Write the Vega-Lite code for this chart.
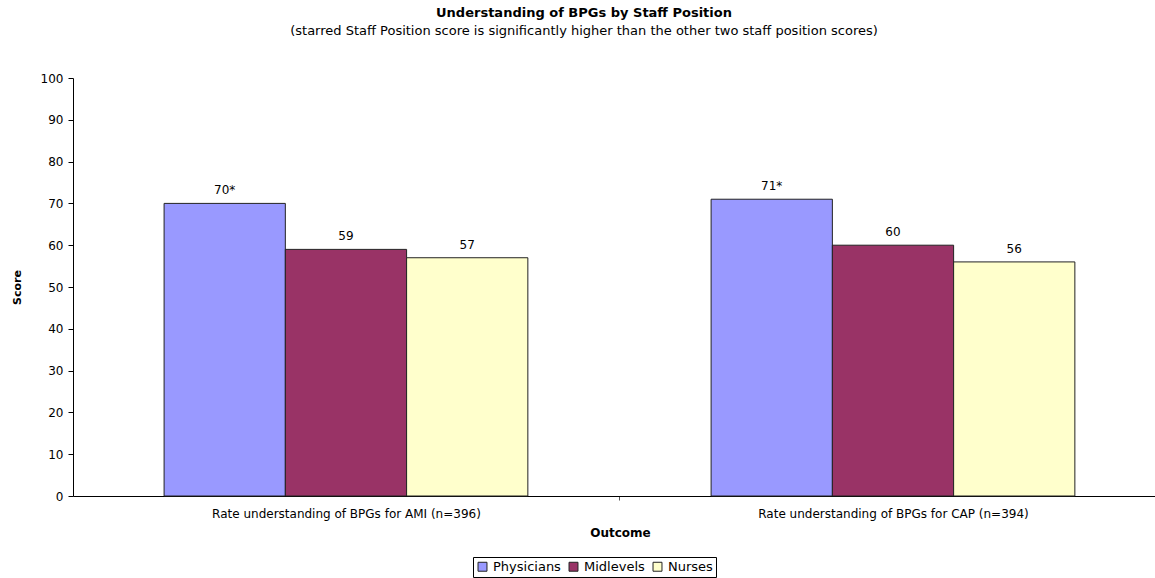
{
  "$schema": "https://vega.github.io/schema/vega-lite/v6.json",
  "width": 1082,
  "height": 418,
  "autosize": {"type": "none"},
  "padding": {"left": 73, "top": 78, "right": 0, "bottom": 82},
  "background": "white",
  "config": {
    "font": "DejaVu Sans",
    "view": {"stroke": null}
  },
  "title": {
    "text": "Understanding of BPGs by Staff Position",
    "subtitle": "(starred Staff Position score is significantly higher than the other two staff position scores)",
    "font": "DejaVu Sans",
    "subtitleFont": "DejaVu Sans",
    "fontSize": 13,
    "fontWeight": "bold",
    "subtitleFontSize": 13,
    "subtitlePadding": 5,
    "anchor": "middle",
    "dx": -30,
    "offset": 34,
    "color": "black",
    "subtitleColor": "black"
  },
  "data": {
    "values": [
      {"outcome": "Rate understanding of BPGs for AMI (n=396)", "position": "Physicians", "score": 70, "label": "70*"},
      {"outcome": "Rate understanding of BPGs for AMI (n=396)", "position": "Midlevels", "score": 59, "label": "59"},
      {"outcome": "Rate understanding of BPGs for AMI (n=396)", "position": "Nurses", "score": 57, "label": "57"},
      {"outcome": "Rate understanding of BPGs for CAP (n=394)", "position": "Physicians", "score": 71, "label": "71*"},
      {"outcome": "Rate understanding of BPGs for CAP (n=394)", "position": "Midlevels", "score": 60, "label": "60"},
      {"outcome": "Rate understanding of BPGs for CAP (n=394)", "position": "Nurses", "score": 56, "label": "56"}
    ]
  },
  "encoding": {
    "x": {
      "field": "outcome",
      "type": "nominal",
      "title": "Outcome",
      "scale": {"paddingInner": 0.335, "paddingOuter": 0.1565, "align": 0.532},
      "axis": {
        "labelAngle": 0,
        "labelFontSize": 12,
        "labelLimit": 600,
        "labelColor": "black",
        "labelPadding": 8,
        "titleFontSize": 12,
        "titleFontWeight": "bold",
        "titleColor": "black",
        "titlePadding": 8,
        "titleX": 547,
        "domainColor": "black",
        "tickColor": "#555",
        "tickSize": 4,
        "tickOffset": 273.5,
        "labelOffset": -273.5
      }
    },
    "xOffset": {"field": "position", "type": "nominal", "sort": ["Physicians", "Midlevels", "Nurses"], "scale": {"paddingInner": 0, "paddingOuter": 0}},
    "y": {
      "field": "score",
      "type": "quantitative",
      "title": "Score",
      "scale": {"domain": [0, 100]},
      "axis": {
        "values": [0, 10, 20, 30, 40, 50, 60, 70, 80, 90, 100],
        "grid": false,
        "labelFontSize": 12,
        "labelColor": "black",
        "labelPadding": 5,
        "tickSize": 5,
        "tickColor": "black",
        "domainColor": "black",
        "titleFontSize": 11,
        "titleFontWeight": "bold",
        "titleColor": "black",
        "titlePadding": 18
      }
    }
  },
  "layer": [
    {
      "mark": {"type": "bar", "stroke": "#222", "strokeWidth": 1},
      "encoding": {
        "color": {
          "field": "position",
          "type": "nominal",
          "sort": ["Physicians", "Midlevels", "Nurses"],
          "scale": {"domain": ["Physicians", "Midlevels", "Nurses"], "range": ["#9999FF", "#993366", "#FFFFCC"]},
          "legend": {
            "title": null,
            "orient": "none",
            "direction": "horizontal",
            "legendX": 400,
            "legendY": 479,
            "symbolType": "square",
            "symbolSize": 80,
            "symbolStrokeColor": "#222",
            "symbolStrokeWidth": 1,
            "labelFontSize": 13,
            "labelColor": "black",
            "labelOffset": 4,
            "columnPadding": 6,
            "strokeColor": "black",
            "padding": 3
          }
        }
      }
    },
    {
      "mark": {"type": "text", "baseline": "bottom", "dy": -6, "fontSize": 12, "color": "black"},
      "encoding": {
        "text": {"field": "label"}
      }
    }
  ]
}
